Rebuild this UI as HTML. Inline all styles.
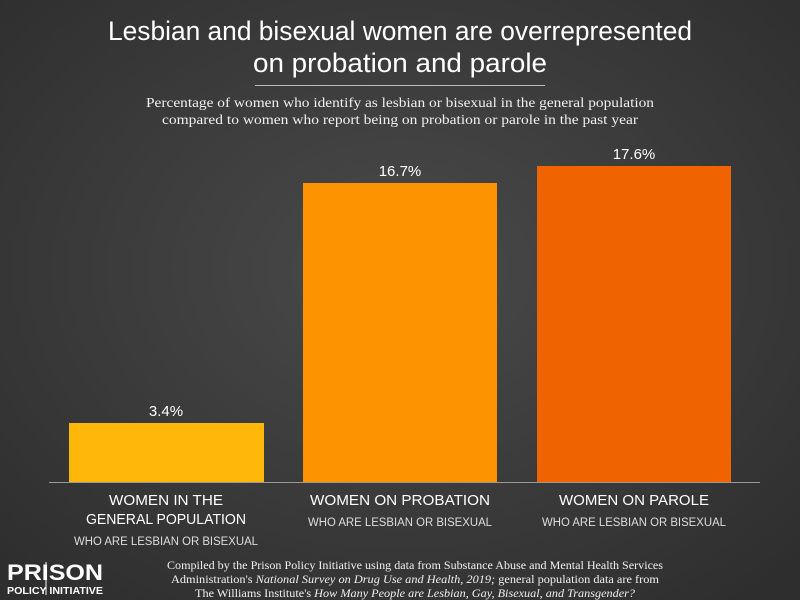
<!DOCTYPE html>
<html><head><meta charset="utf-8"><style>
html,body{margin:0;padding:0;}
body{width:800px;height:600px;overflow:hidden;background:#3a3a3a;}
svg{display:block;}
</style></head><body>
<svg width="800" height="600" xmlns="http://www.w3.org/2000/svg">
<defs>
<radialGradient id="bg" cx="50%" cy="45%" r="70%">
<stop offset="0" stop-color="#4a4a4a"/><stop offset="1" stop-color="#2e2e2e"/>
</radialGradient>
</defs>
<rect width="800" height="600" fill="url(#bg)"/>
<g fill="#fff" font-family="Liberation Sans, sans-serif" text-anchor="middle">
<text x="400" y="40" font-size="27" textLength="584" lengthAdjust="spacingAndGlyphs">Lesbian and bisexual women are overrepresented</text>
<text x="400" y="72" font-size="27" textLength="294" lengthAdjust="spacingAndGlyphs">on probation and parole</text>
</g>
<line x1="255" y1="85.5" x2="545" y2="85.5" stroke="#bbb" stroke-width="1"/>
<g fill="#f0f0f0" font-family="Liberation Serif, serif" font-size="14" text-anchor="middle">
<text x="400" y="107" textLength="508" lengthAdjust="spacingAndGlyphs">Percentage of women who identify as lesbian or bisexual in the general population</text>
<text x="400" y="124" textLength="476" lengthAdjust="spacingAndGlyphs">compared to women who report being on probation or parole in the past year</text>
</g>
<rect x="69" y="423" width="195" height="59" fill="#ffb80a"/>
<rect x="303" y="183" width="194" height="299" fill="#fe9300"/>
<rect x="537" y="166" width="194" height="316" fill="#f06400"/>
<line x1="49" y1="482.5" x2="760" y2="482.5" stroke="#999" stroke-width="1"/>
<g fill="#fff" font-family="Liberation Sans, sans-serif" font-size="15" text-anchor="middle">
<text x="166" y="416">3.4%</text>
<text x="400" y="176">16.7%</text>
<text x="634" y="159">17.6%</text>
</g>
<g fill="#fff" font-family="Liberation Sans, sans-serif" font-size="15" text-anchor="middle">
<text x="166" y="505" textLength="114" lengthAdjust="spacingAndGlyphs">WOMEN IN THE</text>
<text x="166" y="524" textLength="160" lengthAdjust="spacingAndGlyphs">GENERAL POPULATION</text>
<text x="400" y="505" textLength="180" lengthAdjust="spacingAndGlyphs">WOMEN ON PROBATION</text>
<text x="634" y="505" textLength="150" lengthAdjust="spacingAndGlyphs">WOMEN ON PAROLE</text>
</g>
<g fill="#ddd" font-family="Liberation Sans, sans-serif" font-size="11.5" text-anchor="middle">
<text x="166" y="545" textLength="184" lengthAdjust="spacingAndGlyphs">WHO ARE LESBIAN OR BISEXUAL</text>
<text x="400" y="526" textLength="184" lengthAdjust="spacingAndGlyphs">WHO ARE LESBIAN OR BISEXUAL</text>
<text x="634" y="526" textLength="184" lengthAdjust="spacingAndGlyphs">WHO ARE LESBIAN OR BISEXUAL</text>
</g>
<g fill="#fff" font-family="Liberation Sans, sans-serif" text-anchor="start">
<text x="7" y="580" font-size="22" font-weight="bold" textLength="96" lengthAdjust="spacingAndGlyphs">PRISON</text>
<text x="7" y="594" font-size="10" font-weight="bold" textLength="96" lengthAdjust="spacingAndGlyphs">POLICY INITIATIVE</text>
</g>
<line x1="46" y1="562" x2="46" y2="595" stroke="#fff" stroke-width="1"/>
<g fill="#f0f0f0" font-family="Liberation Serif, serif" font-size="11.5" text-anchor="middle">
<text x="415" y="569" textLength="496" lengthAdjust="spacingAndGlyphs">Compiled by the Prison Policy Initiative using data from Substance Abuse and Mental Health Services</text>
<text x="415" y="583" textLength="488" lengthAdjust="spacingAndGlyphs">Administration's <tspan font-style="italic">National Survey on Drug Use and Health, 2019;</tspan> general population data are from</text>
<text x="415" y="597" textLength="440" lengthAdjust="spacingAndGlyphs">The Williams Institute's <tspan font-style="italic">How Many People are Lesbian, Gay, Bisexual, and Transgender?</tspan></text>
</g>
</svg>
</body></html>
